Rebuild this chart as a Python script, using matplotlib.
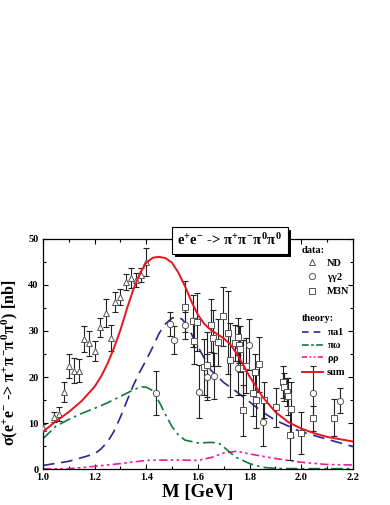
import numpy as np
import matplotlib
matplotlib.use("Agg")
import matplotlib.pyplot as plt
from matplotlib.lines import Line2D
from matplotlib.patches import Rectangle
import matplotlib.transforms as mtransforms

plt.rcParams['font.family'] = ['Liberation Serif', 'DejaVu Serif']
plt.rcParams['font.weight'] = 'bold'
plt.rcParams['mathtext.fontset'] = 'custom'
plt.rcParams['mathtext.rm'] = 'Liberation Serif:bold'
plt.rcParams['mathtext.it'] = 'Liberation Serif:bold'
plt.rcParams['mathtext.bf'] = 'Liberation Serif:bold'

# 数据点: ND
nd_m = [1.00, 1.043, 1.062, 1.081, 1.10, 1.12, 1.14, 1.16, 1.18, 1.20,
        1.22, 1.243, 1.263, 1.28, 1.30, 1.32, 1.34, 1.36, 1.38, 1.40]
nd_v = [9.0, 11.3, 12.0, 16.7, 22.4, 21.4, 21.4, 28.3, 27.3, 25.7,
        30.8, 33.9, 28.4, 36.3, 37.4, 40.6, 41.5, 41.1, 42.2, 45.0]
nd_e = [0.8, 1.0, 1.5, 2.2, 2.6, 2.8, 2.5, 2.8, 2.7, 2.2,
        2.0, 3.0, 2.8, 2.2, 1.8, 1.8, 2.2, 1.5, 1.5, 3.1]

# γγ2
gg_m = [1.439, 1.493, 1.507, 1.551, 1.603, 1.635, 1.662, 1.754, 1.797, 1.852, 2.047, 2.15]
gg_v = [16.6, 31.6, 28.0, 31.2, 16.8, 20.0, 20.3, 22.0, 27.0, 10.3, 16.6, 14.9]
gg_e = [4.8, 2.6, 3.0, 3.0, 5.8, 5.0, 5.0, 6.0, 5.5, 5.2, 5.9, 2.7]

# M3N
m3_m = [1.551, 1.582, 1.597, 1.584, 1.622, 1.636, 1.649, 1.659, 1.679, 1.698,
        1.715, 1.724, 1.743, 1.756, 1.760, 1.764, 1.775, 1.776, 1.787, 1.814,
        1.821, 1.823, 1.836, 1.856, 1.902, 1.928, 1.935, 1.943, 1.950, 1.956,
        1.960, 1.999, 2.046, 2.125]
m3_v = [35.3, 32.2, 31.9, 27.8, 22.2, 22.7, 31.2, 28.5, 27.5, 33.2,
        29.6, 23.7, 27.4, 28.8, 27.0, 26.0, 22.0, 12.8, 22.5, 16.5,
        21.0, 15.0, 22.8, 15.0, 13.4, 19.0, 17.9, 16.7, 15.8, 7.4,
        13.0, 7.9, 11.0, 11.2]
m3_e = [5.5, 5.6, 6.3, 5.0, 6.0, 7.0, 5.7, 6.0, 5.0, 6.4,
        9.0, 8.0, 4.0, 4.0, 4.0, 5.0, 6.0, 5.5, 6.0, 5.0,
        4.0, 6.0, 6.0, 4.0, 4.2, 3.5, 3.0, 3.0, 4.0, 5.5,
        6.0, 4.6, 2.8, 4.0]

# 理论曲线
sum_m = [1.0, 1.05, 1.1, 1.15, 1.2, 1.225, 1.25, 1.275, 1.3, 1.325, 1.35, 1.375, 1.4,
         1.425, 1.45, 1.475, 1.5, 1.525, 1.55, 1.575, 1.6, 1.625, 1.65, 1.675, 1.7,
         1.725, 1.75, 1.775, 1.8, 1.85, 1.9, 1.95, 2.0, 2.05, 2.1, 2.15, 2.2]
sum_v = [8.1, 10.4, 12.4, 14.8, 17.9, 20.1, 22.9, 26.3, 30.2, 34.8, 39.0, 42.5, 44.8,
         45.9, 46.1, 45.8, 44.8, 42.6, 39.7, 36.4, 33.5, 31.5, 30.2, 29.3, 28.4,
         27.1, 25.1, 22.7, 20.1, 15.7, 12.4, 10.2, 8.8, 7.8, 7.0, 6.5, 6.0]

pa1_m = [1.0, 1.1, 1.2, 1.225, 1.25, 1.275, 1.3, 1.325, 1.35, 1.375, 1.4, 1.425, 1.45,
         1.475, 1.5, 1.52, 1.54, 1.56, 1.6, 1.65, 1.7, 1.75, 1.8, 1.85, 1.9, 2.0, 2.1, 2.2]
pa1_v = [0.8, 1.7, 3.3, 4.4, 5.9, 8.2, 11.3, 14.8, 18.2, 21.1, 23.7, 26.5, 29.5,
         31.6, 32.8, 33.1, 32.5, 31.0, 26.6, 21.5, 18.8, 16.8, 14.6, 12.4, 10.6, 8.1, 6.5, 4.9]

pw_m = [1.0, 1.05, 1.1, 1.15, 1.2, 1.25, 1.3, 1.35, 1.38, 1.4, 1.42, 1.45, 1.475, 1.5,
        1.525, 1.55, 1.6, 1.65, 1.68, 1.7, 1.725, 1.75, 1.8, 1.85, 1.9, 2.0, 2.2]
pw_v = [6.6, 9.3, 10.8, 12.1, 13.2, 14.4, 15.8, 17.2, 17.9, 17.8, 17.2, 14.6, 11.8, 9.2,
        7.4, 6.3, 5.7, 5.8, 5.7, 4.8, 3.6, 2.5, 1.2, 0.4, 0.15, 0.1, 0.1]

rr_m = [1.0, 1.1, 1.2, 1.3, 1.4, 1.5, 1.6, 1.65, 1.7, 1.75, 1.8, 1.85, 1.9, 2.0, 2.1, 2.2]
rr_v = [0.05, 0.1, 0.6, 1.2, 1.9, 2.0, 1.9, 2.5, 3.5, 3.9, 3.3, 2.8, 2.3, 1.5, 1.0, 0.9]

fig = plt.figure(figsize=(3.9, 5.05), dpi=100)
ax = fig.add_axes([0.110, 0.071, 0.795, 0.456])

c_red = '#e8141e'
c_blue = '#27279a'
c_green = '#12773a'
c_mag = '#ee1aa0'

ax.plot(rr_m, rr_v, color=c_mag, lw=1.2, dashes=(5, 2, 1.5, 2, 1.5, 2), zorder=2)
ax.plot(pw_m, pw_v, color=c_green, lw=1.2, dashes=(7, 2.5, 1.5, 2.5), zorder=2)
ax.plot(pa1_m, pa1_v, color=c_blue, lw=1.2, dashes=(7, 4), zorder=2)

eb = dict(fmt='none', ecolor='#222222', elinewidth=0.8, capsize=2.2, capthick=0.8, zorder=3)
ax.errorbar(nd_m, nd_v, yerr=nd_e, **eb)
ax.errorbar(gg_m, gg_v, yerr=gg_e, **eb)
ax.errorbar(m3_m, m3_v, yerr=m3_e, **eb)

mk = dict(ls='none', mfc='white', mec='#555555', mew=0.7, ms=4.5, zorder=4)
ax.plot(nd_m, nd_v, marker='^', **mk)
ax.plot(gg_m, gg_v, marker='o', **mk)
ax.plot(m3_m, m3_v, marker='s', **{**mk, 'ms': 4})

ax.plot(sum_m, sum_v, color=c_red, lw=1.4, zorder=5)

ax.set_xlim(1.0, 2.2)
ax.set_ylim(0, 50)
ax.set_xticks(np.arange(1.0, 2.21, 0.2))
ax.set_xticks(np.arange(1.0, 2.21, 0.1), minor=True)
ax.set_yticks(np.arange(0, 51, 10))
ax.set_yticks(np.arange(0, 51, 5), minor=True)
ax.set_xticklabels(['1.0', '1.2', '1.4', '1.6', '1.8', '2.0', '2.2'])
ax.tick_params(which='both', direction='in', top=True, right=True, labelsize=7.5, width=0.8)
ax.tick_params(which='major', length=3.5, pad=3)
ax.tick_params(which='minor', length=2)
for s in ax.spines.values():
    s.set_linewidth(0.9)

ax.set_xlabel('M [GeV]', fontsize=13.5, fontweight='bold', labelpad=1)
ax.set_ylabel(r'$\sigma(\mathrm{e}^{+}\mathrm{e}^{-}$ -> $\pi^{+}\pi^{-}\pi^{0}\pi^{0})$ [nb]',
              fontsize=11.5, fontweight='bold')
ax.yaxis.set_label_coords(-0.075, 0.46)

# 图例
h_data = [Line2D([], [], ls='none', marker='^', mfc='white', mec='#555555', mew=0.7, ms=4.5),
          Line2D([], [], ls='none', marker='o', mfc='white', mec='#555555', mew=0.7, ms=4.5),
          Line2D([], [], ls='none', marker='s', mfc='white', mec='#555555', mew=0.7, ms=4)]
leg1 = ax.legend(h_data, ['ND', r'$\gamma\gamma$2', 'M3N'], title='data:', loc='upper left',
                 bbox_to_anchor=(0.815, 0.995), frameon=False, fontsize=7.5, title_fontsize=7.5,
                 handlelength=2.0, handletextpad=0.4, labelspacing=0.3, borderpad=0.1)
leg1._legend_box.align = 'left'
leg1.get_title().set_fontweight('bold')
ax.add_artist(leg1)

h_th = [Line2D([], [], color=c_blue, lw=1.2, dashes=(4, 3)),
        Line2D([], [], color=c_green, lw=1.2, dashes=(4, 1.5, 1.5, 1.5)),
        Line2D([], [], color=c_mag, lw=1.2, dashes=(3, 1.5, 1, 1.5, 1, 1.5)),
        Line2D([], [], color=c_red, lw=1.4)]
leg2 = ax.legend(h_th, [r'$\pi$a1', r'$\pi\omega$', r'$\rho\rho$', 'sum'], title='theory:',
                 loc='upper left', bbox_to_anchor=(0.815, 0.70), frameon=False, fontsize=7.5,
                 title_fontsize=7.5, handlelength=2.0, handletextpad=0.4, labelspacing=0.3,
                 borderpad=0.1)
leg2._legend_box.align = 'left'
leg2.get_title().set_fontweight('bold')

# 标题框 (带阴影)
title = r'$\mathrm{e}^{+}\mathrm{e}^{-}$ -> $\pi^{+}\pi^{-}\pi^{0}\pi^{0}$'
t = ax.text(0.603, 0.993, title, transform=ax.transAxes, ha='center', va='center',
            fontsize=10.5, color='black',
            bbox=dict(boxstyle='square,pad=0.4', fc='white', ec='black', lw=0.8),
            zorder=10, clip_on=False)
fig.canvas.draw()
bb = t.get_bbox_patch().get_window_extent(fig.canvas.get_renderer())
shadow = Rectangle((bb.x0 + 3, bb.y0 - 3), bb.width, bb.height,
                   transform=mtransforms.IdentityTransform(),
                   fc='black', ec='none', zorder=9, clip_on=False)
ax.add_artist(shadow)

fig.savefig('out.png', dpi=100)
